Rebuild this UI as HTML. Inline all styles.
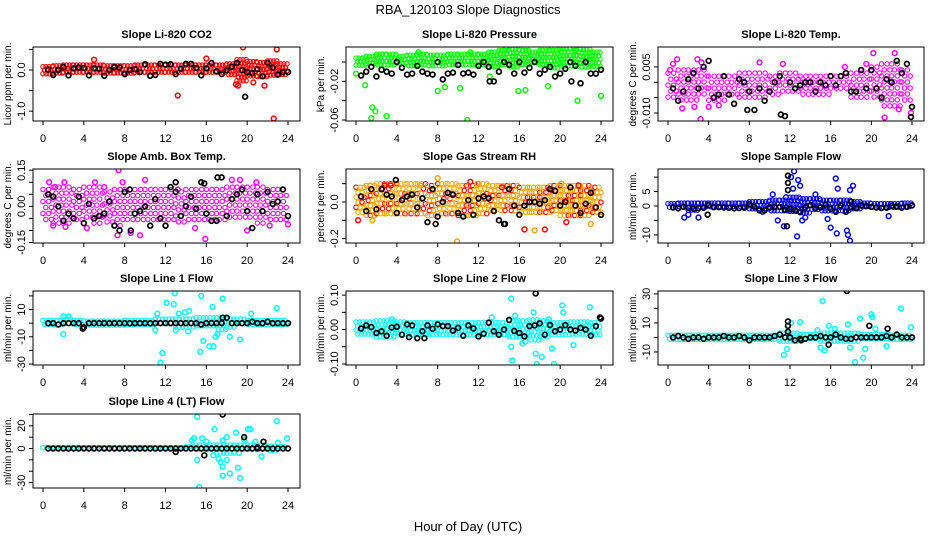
<!DOCTYPE html>
<html><head><meta charset="utf-8"><title>RBA_120103 Slope Diagnostics</title>
<style>
html,body{margin:0;padding:0;background:#fff;width:936px;height:540px;overflow:hidden}
svg{display:block;font-family:"Liberation Sans",Arial,sans-serif}
</style></head>
<body>
<svg id="chart" width="936" height="540" viewBox="0 0 936 540" xmlns="http://www.w3.org/2000/svg">
<text x="468" y="14" text-anchor="middle" font-size="13">RBA_120103  Slope Diagnostics</text>
<text x="468" y="531" text-anchor="middle" font-size="13">Hour of Day (UTC)</text>
</svg>
<script>
// ---- data ----
const titles = ["Slope Li-820 CO2","Slope Li-820 Pressure","Slope Li-820 Temp.","Slope Amb. Box Temp.","Slope Gas Stream RH","Slope Sample Flow","Slope Line 1 Flow","Slope Line 2 Flow","Slope Line 3 Flow","Slope Line 4 (LT) Flow"];
const yTitles = ["Licor ppm per min.","kPa per min.","degrees C per min.","degrees C per min.","percent per min.","ml/min per min.","ml/min per min.","ml/min per min.","ml/min per min.","ml/min per min."];
const colors = ["#ff0000","#00ff00","#ff00ff","#ff00ff","#ffa500","#0000ff","#00ffff","#00ffff","#00ffff","#00ffff"];
const yLims = [[-1.24,0.56],[-0.061,0.0155],[-0.0126,0.0115],[-0.152,0.155],[-0.224,0.18],[-12.8,12.8],[-30.7,23.6],[-0.103,0.112],[-19,32],[-34.8,30.4]];
const yTicks = [[0.5,0,-0.5,-1],[0,-0.02,-0.04,-0.06],[0.005,0,-0.005,-0.01],[0.15,0.1,0.05,0,-0.05,-0.1,-0.15],[0.1,0,-0.1,-0.2],[10,5,0,-5,-10],[20,10,0,-10,-20,-30],[0.1,0.05,0,-0.05,-0.1],[30,20,10,0,-10],[30,20,10,0,-10,-20,-30]];
const yTickLabels = [["","0.0","","-1.0"],["","-0.02","","-0.06"],["0.005","","","-0.010"],["0.15","","","0.00","","","-0.15"],["","0.0","","-0.2"],["","5","0","","-10"],["","10","","-10","","-30"],["0.10","","0.00","","-0.10"],["30","","10","","-10"],["","20","","0","","","-30"]];
const xTicks = [0,4,8,12,16,20,24];
const xTickLabels = ["0","4","8","12","16","20","24"];

// central cloud extents per hour (lo / hi)
const bandLo = [
[-0.1,-0.12,-0.12,-0.12,-0.12,-0.1,-0.1,-0.1,-0.12,-0.1,-0.1,-0.1,-0.12,-0.12,-0.12,-0.12,-0.12,-0.12,-0.15,-0.3,-0.2,-0.18,-0.2,-0.15],
[-0.004,-0.004,-0.005,-0.004,-0.004,-0.005,-0.004,-0.004,-0.005,-0.004,-0.004,-0.005,-0.004,-0.006,-0.005,-0.005,-0.004,-0.004,-0.005,-0.006,-0.005,-0.004,-0.005,-0.006],
[-0.006,-0.006,-0.006,-0.004,-0.006,-0.006,-0.004,-0.005,-0.005,-0.005,-0.005,-0.004,-0.004,-0.004,-0.004,-0.004,-0.003,-0.003,-0.005,-0.005,-0.006,-0.008,-0.008,-0.006],
[-0.07,-0.08,-0.07,-0.07,-0.06,-0.07,-0.07,-0.08,-0.07,-0.07,-0.07,-0.07,-0.06,-0.07,-0.07,-0.07,-0.07,-0.07,-0.06,-0.06,-0.06,-0.07,-0.07,-0.07],
[-0.06,-0.08,-0.08,-0.08,-0.08,-0.07,-0.07,-0.08,-0.08,-0.08,-0.08,-0.08,-0.07,-0.07,-0.07,-0.07,-0.07,-0.07,-0.07,-0.07,-0.08,-0.08,-0.08,-0.07],
[-0.8,-1,-1.5,-1,-1,-0.8,-0.8,-0.8,-1.2,-1.5,-2,-2,-2.5,-3,-2,-2,-2,-2,-2,-1,-0.8,-0.8,-0.8,-0.8],
[-2,-2,-2,-2,-1.5,-1.5,-1.5,-1.5,-2,-2,-2,-2,-2,-3,-3,-3,-4,-5,-4,-2,-2,-2,-2,-2],
[-0.022,-0.022,-0.025,-0.025,-0.022,-0.02,-0.02,-0.02,-0.02,-0.02,-0.02,-0.02,-0.02,-0.02,-0.02,-0.025,-0.025,-0.03,-0.025,-0.02,-0.02,-0.022,-0.022,-0.02],
[-1.5,-2,-2,-1.5,-1.5,-1.5,-1.5,-1.5,-1.5,-1.5,-2,-3,-3,-3,-3,-4,-4,-5,-4,-3,-2.5,-3,-2,-1.5],
[-0.8,-0.8,-0.8,-0.8,-0.8,-0.8,-0.8,-0.8,-0.8,-0.8,-0.8,-0.8,-0.8,-0.8,-1.5,-3,-3,-5,-4,-3,-3,-3,-2,-1.5]];
const bandHi = [
[0.08,0.1,0.12,0.12,0.12,0.12,0.1,0.1,0.1,0.12,0.12,0.12,0.12,0.12,0.12,0.12,0.12,0.12,0.15,0.25,0.2,0.18,0.22,0.15],
[0.004,0.006,0.008,0.008,0.006,0.007,0.008,0.007,0.007,0.008,0.008,0.008,0.008,0.01,0.012,0.013,0.012,0.01,0.012,0.012,0.014,0.014,0.013,0.01],
[0.003,0.004,0.004,0.004,0.002,0.002,0.002,0.003,0.003,0.003,0.002,0.003,0.003,0.002,0.002,0.002,0.002,0.002,0.003,0.003,0.005,0.006,0.006,0.004],
[0.07,0.08,0.08,0.07,0.08,0.08,0.06,0.07,0.07,0.07,0.07,0.07,0.07,0.06,0.07,0.07,0.07,0.07,0.08,0.08,0.08,0.08,0.07,0.07],
[0.08,0.09,0.1,0.1,0.1,0.1,0.1,0.09,0.1,0.1,0.09,0.09,0.1,0.09,0.09,0.09,0.08,0.08,0.08,0.09,0.09,0.09,0.09,0.08],
[0.8,1,1,1,1,1,1,1,1.5,1.5,2,2,3,2.5,2.5,2,2,2,1.5,1,0.8,0.8,0.8,1],
[2,2,3,2,1.5,1.5,1.5,1.5,2,2,2,3,3,3,3,4,4,4,3,3,2,2,2,2],
[0.022,0.022,0.025,0.025,0.022,0.02,0.02,0.02,0.02,0.02,0.02,0.02,0.02,0.02,0.02,0.025,0.025,0.028,0.025,0.02,0.02,0.022,0.022,0.02],
[1.5,1.5,1.5,1.5,1.5,1.5,1.5,1.5,1.5,1.5,1.5,3,3,2,2,3,3,3,3,2,2,2,1.5,1.5],
[0.8,0.8,0.8,0.8,0.8,0.8,0.8,0.8,0.8,0.8,0.8,0.8,0.8,0.8,1.5,3,3,3,3,3,3,3,2,1.5]];
const bandStep = [0.3,0.3,0.55,0.55,0.4,0.3,0.35,0.35,0.35,0.35];
const bandDy = [3.5,3.5,6,6,5,3.5,4,4,4,4];

// coloured outliers [hour, value]
const outliers = [
[[13.2,-0.62],[19.6,0.55],[22.9,0.5],[22.6,-1.18],[18.9,-0.35],[5,0.25],[16,0.28],[19.1,-0.38],[21.7,-0.38],[20.6,-0.3]],
[[0,-0.012],[0.9,-0.024],[1.6,-0.047],[1.5,-0.058],[1.9,-0.051],[3,-0.056],[8,-0.03],[8.7,-0.026],[10.2,-0.027],[10.9,-0.06],[15.9,-0.03],[16.6,-0.029],[18.8,-0.025],[21.7,-0.04],[24,-0.035],[13.1,-0.015],[6.1,0.01],[11.2,0.01],[14.7,0.014],[21.5,0.012]],
[[0.9,0.0075],[2.9,0.0075],[3.3,0.0065],[3.2,-0.012],[9,0.0065],[20.2,0.0095],[22.3,0.0095],[21.3,-0.0115],[22.7,-0.0088],[1.4,-0.0085],[2.6,-0.008],[4,-0.008],[5,-0.0075],[0.2,0.004],[0.5,0.006],[11.3,0.006],[17.4,0.005],[19.5,0.006],[23.9,-0.01]],
[[0.6,0.1],[1.2,0.08],[2.1,0.1],[5.1,0.1],[6,0.08],[7.4,0.15],[7.8,0.1],[10,0.11],[7.3,-0.12],[9.5,-0.12],[8.6,-0.11],[15.9,-0.135],[20,-0.1],[18.5,0.11],[19.3,0.11],[20.9,0.1],[1,-0.08],[2.2,-0.085],[14.9,-0.09],[22.2,-0.08],[24,-0.075],[13.2,0.07],[4.3,-0.09]],
[[8,0.13],[11.2,0.11],[11.9,0.1],[3.4,0.09],[20.1,0.1],[21.8,0.09],[9.9,-0.215],[16.5,-0.15],[17.5,-0.155],[18.5,-0.15],[1.6,-0.1],[0.2,-0.1],[23,-0.12],[20.6,-0.11],[1.4,0.09],[2.8,0.09],[6.3,0.09],[14.3,0.08]],
[[1.6,-4],[2,-3],[3,-4],[10.8,-5],[11.4,-7],[12.1,10],[12.4,12],[12.8,9],[13,7],[12.3,6],[12.7,-10.5],[13.5,-4],[15.7,-4.5],[16,-7.5],[16.5,9.5],[16.7,6],[16.6,-9.5],[17.6,-8.5],[17.7,-10],[17.9,-12],[17.9,5.5],[18.2,7],[21.7,-3.5],[10.3,4],[9.3,-2],[14.5,4],[11.6,3],[13.2,-5]],
[[2,5],[2.5,5],[2,-8],[11.5,-29],[11.7,-22],[11.2,7],[12.1,15],[12.8,14],[12.9,22],[13.3,7],[13.9,8],[14.3,9],[15.5,20],[15.4,-21],[15.7,-13],[16.3,-17],[16.7,-17],[16.9,-10],[16.6,12],[17.6,18],[18.3,-10],[19.3,-12],[20.4,7],[22.9,11],[11,-5],[14.2,-6],[13,-5],[17.1,-8]],
[[3.5,0.03],[15.2,0.09],[15.3,-0.09],[15.2,-0.05],[17.4,0.05],[17.6,-0.07],[17.7,-0.1],[18.2,-0.08],[16.3,-0.04],[16.6,-0.035],[19.2,-0.055],[19.4,-0.1],[20.2,0.07],[20.3,0.05],[22.9,0.065],[21.3,-0.045],[15.6,0.04],[13.3,0.035],[18.9,0.03]],
[[15.2,25],[15,-7],[15.4,-9],[11.4,-12],[12.1,10],[13,10.5],[15.8,8],[16.4,6],[17.7,9],[18.9,13],[20,16],[20.1,14],[20.4,6],[18.4,-17],[19.2,-14],[19.4,-8],[22.9,20],[23.9,7],[21.5,-6],[17.9,-7],[14.7,5],[11.7,-8]],
[[15.1,28],[14.6,7],[14.8,9],[15.6,9],[15.1,-10],[15.3,-34],[16,6],[16.8,17],[16.7,-6],[17.2,-9],[17.4,-12],[17.6,-16],[17.6,-24],[17.6,7],[18,10],[18,-10],[18.3,-22],[18.9,14],[19.1,-17],[19.3,-26],[20.1,17],[20.3,17],[20.8,6],[21.4,-7],[22.9,24],[23,5],[23.9,9],[19.7,8],[19.2,-4]]];

// black series, one value every half hour (0.5 .. 24)
const black = [
[0.01,-0.12,0.0,0.07,-0.13,0.04,0.06,0.05,-0.13,0.04,0.03,-0.14,0.0,0.07,0.06,-0.1,0.0,0.02,-0.05,0.14,-0.14,-0.12,0.15,0.13,0.14,-0.1,0.03,0.15,0.15,0.05,-0.13,0.04,0.17,-0.03,-0.1,0.0,0.08,0.17,0.0,-0.05,-0.08,0.02,-0.15,0.17,0.06,-0.11,-0.05,-0.05],
[-0.014,-0.01,-0.005,-0.015,-0.008,-0.01,-0.012,0,-0.006,-0.013,-0.012,-0.004,-0.01,-0.012,-0.013,0,-0.018,-0.012,-0.011,-0.003,-0.012,-0.011,-0.013,-0.004,0,-0.005,-0.02,-0.01,0,-0.003,-0.012,0,-0.011,-0.006,0,-0.012,-0.008,-0.005,-0.015,-0.012,-0.007,0,-0.004,-0.022,0,-0.012,-0.012,-0.008],
[-0.002,-0.006,-0.003,0.001,0.003,-0.002,0.005,0.007,-0.005,-0.004,0.002,-0.004,-0.007,0.001,0.0,-0.003,-0.009,-0.002,-0.006,-0.003,0.0,0.002,-0.011,0.0,-0.002,-0.001,0.0,0.0,-0.003,0.0,-0.001,0.002,-0.001,0.002,0.003,-0.003,-0.003,0.004,-0.002,0.004,-0.002,-0.005,0.001,0.0,0.007,0.003,0.006,-0.008],
[0.05,0.04,0.0,-0.06,-0.03,-0.05,0.04,-0.07,0.01,-0.05,-0.04,-0.03,0.02,-0.08,-0.1,0.06,0.07,-0.03,-0.02,0.0,-0.08,0.03,-0.05,-0.08,0.08,0.06,-0.04,0.0,0.04,-0.01,0.1,-0.03,-0.06,-0.06,0.12,-0.04,0.03,0.05,0.07,-0.02,-0.09,0.05,-0.02,0.06,0.01,0.02,0.07,-0.04],
[0.03,-0.05,0.07,-0.04,0.07,0.04,0.03,-0.06,0.01,0.03,0.04,-0.03,0.02,-0.11,0.07,-0.08,0.0,0.05,0.04,-0.06,-0.08,0.01,-0.07,0.02,0.03,0.02,-0.05,-0.1,-0.12,0.07,-0.02,-0.07,-0.02,0.0,0.0,-0.01,0.01,0.07,0.06,-0.02,0.0,0.08,-0.02,-0.06,-0.01,0.05,-0.03,-0.07],
[-0.5,-0.8,-0.3,-0.6,-0.9,-0.7,-0.6,0.3,-0.4,-0.4,-0.5,-0.6,-0.8,-0.7,-0.6,0.6,-0.3,-1.5,-1.5,-0.4,-0.3,-0.3,-1.3,-1.1,-1.5,-2,-0.5,0.3,-0.7,-0.5,0.5,-1,-2,0.2,-2,-0.3,-0.7,0.2,0,-0.3,-0.5,-0.7,-0.6,0.0,-0.2,-0.6,-0.3,0.2],
[0,0,-1,0,0,0,0,-3,0,0,0,0,0,0,0,0,0,0,0,0,0,0,0,0,0,0,0,0,0,0,-1,0,0,0,0,4,0,0,0,0,1,0,0,1,0,0,0,0],
[0.003,0.012,0.007,-0.01,-0.005,-0.018,0.006,0.008,-0.015,0.015,0.012,-0.025,-0.005,0.012,0.002,0.015,0.01,0.01,-0.003,0.005,-0.018,0.012,0.003,-0.02,-0.012,0.02,-0.005,-0.015,0.0,0.028,-0.004,-0.01,-0.02,0.01,0.012,0.018,-0.015,0.013,-0.005,0.0,0.013,0.0,-0.003,0.005,0.0,-0.018,0.01,0.032],
[0,1,0,-1,0,0,-1,0,0,0,1,0,0,1,0,-2,0,0,0,0,1,2,0,0,-2,-1,-1,0,0,1,0,0,2,0,-1,-1,0,0,0,0,0,0,1,0,2,0,0,0],
[0,0,0,0,0,0,0,0,0,0,0,0,0,0,0,0,0,0,0,0,0,0,0,0,0,0,0,0,0,0,0,0,0,0,0,0,0,0,0,0,0,0,0,0,0,0,0,0]];
// black outliers [hour, value]
const blackOut = [
[[19.8,-0.65]],[[13.1,-0.02],[21.1,-0.02]],[[7.8,-0.009],[11.1,-0.0105],[23.9,-0.0113]],[[17.1,0.12],[13,0.1],[15.8,0.095],[8.6,-0.1]],[[7.8,-0.12],[3.9,0.12],[14.6,-0.12]],
[[11.8,8],[11.8,5.5],[11.8,10.5],[11.7,-7],[3.9,-3],[18,1.5]],[[17.6,4],[3.9,-4]],[[17.6,0.105],[23.9,0.035],[5.2,-0.022],[6.7,-0.025]],
[[17.6,32],[11.8,11],[11.8,8],[11.8,4],[19.8,8],[21.6,6],[15.8,-5],[13.1,-2]],[[17.6,30],[19.7,10],[21.6,6],[13,-3],[15.8,-6],[21,1]]];

// ---- drawing ----
const NS = "http://www.w3.org/2000/svg";
const svg = document.getElementById("chart");
const colL = [33,346,658], colR = [300,613,924];
const rowT = [47,169,291,414], H = 74;
function mk(tag, attrs, parent){ const e = document.createElementNS(NS, tag); for (const k in attrs) e.setAttribute(k, attrs[k]); (parent||svg).appendChild(e); return e; }

for (let p = 0; p < 10; p++) {
  const L = colL[p%3], R = colR[p%3], T = rowT[Math.floor(p/3)], B = T + H;
  const g = mk("g", {});
  
  
  const xs = h => L + 10 + h * (R - L - 22) / 24;
  const [y0, y1] = yLims[p];
  const ys = v => T + (y1 - v) / (y1 - y0) * H;
  const clip = "c" + p;
  const cp = mk("clipPath", {id: clip}, g); mk("rect", {x: L, y: T, width: R - L, height: H}, cp);
  const marks = mk("g", {"clip-path": "url(#" + clip + ")"}, g);
  
  
  // cloud
  const st = bandStep[p], dy = bandDy[p];
  for (let h = 0; h < 24; h++) {
    const top = ys(bandHi[p][h]), bot = ys(bandLo[p][h]);
    let row = 0;
    for (let py = top; py <= bot + 0.1; py += dy, row++) {
      let k = 0;
      for (let hx = h + (row % 2 ? st/2 : 0); hx < h + 1; hx += st, k++) {
        const c = mk("circle", {cx: xs(hx).toFixed(1), cy: py.toFixed(1), r: 2.2, fill: "none", stroke: (p===4 && (row+k+h)%4===0) ? "#ff0000" : colors[p], "stroke-width": 1.1}, marks);
        
      }
    }
  }
  outliers[p].forEach(([hx, v], i) => {
    const c = mk("circle", {cx: xs(hx), cy: ys(v), r: 2.4, fill: "none", stroke: (p===4 && i%2) ? "#ff0000" : colors[p], "stroke-width": 1.5}, marks);
    
  });
  black[p].forEach((v, i) => {
    const c = mk("circle", {cx: xs(0.5 + i*0.5), cy: ys(v), r: 2.4, fill: "none", stroke: "#000", "stroke-width": 1.7}, marks);
    
  });
  blackOut[p].forEach(([hx, v]) => {
    const c = mk("circle", {cx: xs(hx), cy: ys(v), r: 2.4, fill: "none", stroke: "#000", "stroke-width": 1.7}, marks);
    
  });
  // box
  const box = mk("rect", {x: L, y: T, width: R - L, height: H, fill: "none", stroke: "#000", "stroke-width": 1}, g);
  
  // title
  const t = mk("text", {x: (L+R)/2, y: T - 9, "text-anchor": "middle", "font-size": 11, "font-weight": "bold"}, g);
  t.textContent = titles[p];
  
  // x axis
  mk("line", {x1: xs(0), x2: xs(24), y1: B, y2: B, stroke: "#000"}, g);
  xTicks.forEach((v, i) => {
    mk("line", {x1: xs(v), x2: xs(v), y1: B, y2: B + 4, stroke: "#000"}, g);
    const tl = mk("text", {x: xs(v), y: B + 21, "text-anchor": "middle", "font-size": 11}, g);
    tl.textContent = xTickLabels[i];
    
  });
  // y axis
  const tk = yTicks[p];
  mk("line", {x1: L, x2: L, y1: ys(tk[0]), y2: ys(tk[tk.length-1]), stroke: "#000"}, g);
  tk.forEach((v, i) => {
    mk("line", {x1: L - 4, x2: L, y1: ys(v), y2: ys(v), stroke: "#000"}, g);
    if (yTickLabels[p][i]) {
      const yl = mk("text", {x: 0, y: 0, "text-anchor": "middle", "font-size": 11, transform: "translate(" + (L - 8) + "," + ys(v) + ") rotate(-90)"}, g);
      yl.textContent = yTickLabels[p][i];
      
    }
  });
  const yt = mk("text", {x: 0, y: 0, "text-anchor": "middle", "font-size": 10, transform: "translate(" + (L - 22) + "," + (T + H/2) + ") rotate(-90)"}, g);
  yt.textContent = yTitles[p];
  
}
</script>
</body></html>
